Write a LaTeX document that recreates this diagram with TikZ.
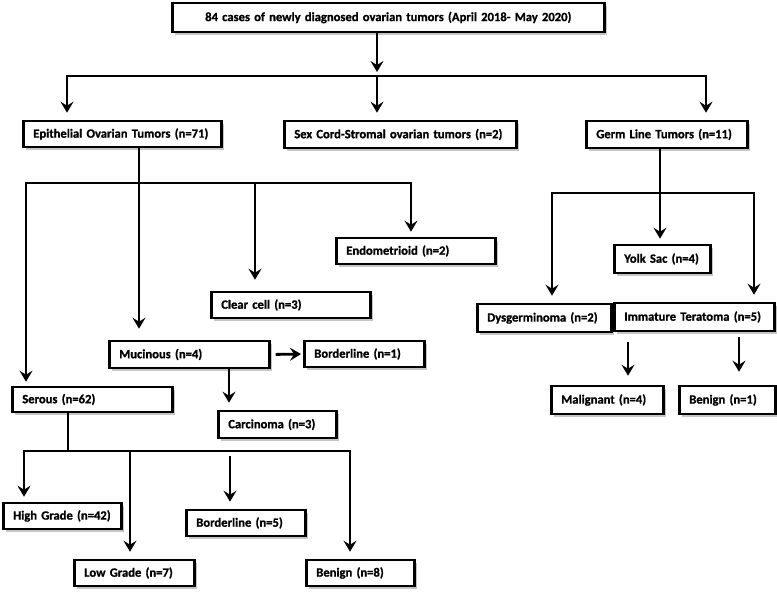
\documentclass[tikz,border=0pt]{standalone}
\usepackage{fontspec}
\setmainfont{Carlito}[BoldFeatures={FakeBold=1}]
\usetikzlibrary{arrows.meta}
\usetikzlibrary{shadows}
\tikzset{>={Stealth[length=11pt,width=13pt,inset=4pt]}}

\begin{document}
\begin{tikzpicture}[x=1pt, y=-1pt,
        tbox/.style={draw, line width=2.6pt, fill=white, anchor=west,
            inner xsep=10pt, inner ysep=2pt, minimum height=26pt,
            text width=#1, align=left,
            font=\bfseries\fontsize{12.6}{14}\selectfont,
            drop shadow={shadow xshift=3pt, shadow yshift=-3pt, fill=black!45, opacity=0.5}},
        link/.style={line width=2.8pt},
        arrow/.style={link, ->, shorten >=7pt}]
        \useasboundingbox (0,0) rectangle (777,596);

        % boxes
        \node [tbox=412, align=center, minimum height=29pt] (top) at (171,17.5) {84 cases of newly diagnosed ovarian tumors (April 2018- May 2020)};
        \node [tbox=178] (epi) at (22,134) {Epithelial Ovarian Tumors (n=71)};
        \node [tbox=212, minimum height=27pt] (sex) at (283,134.5) {Sex Cord-Stromal ovarian tumors (n=2)};
        \node [tbox=141, minimum height=27pt] (germ) at (585,134.5) {Germ Line Tumors (n=11)};
        \node [tbox=139] (endo) at (335,251) {Endometrioid (n=2)};
        \node [tbox=139] (cc) at (210,305) {Clear cell (n=3)};
        \node [tbox=140, minimum height=27pt] (muc) at (108,354.5) {Mucinous (n=4)};
        \node [tbox=100] (bord1) at (303,354) {Borderline (n=1)};
        \node [tbox=140, minimum height=25pt] (ser) at (11,399.5) {Serous (n=62)};
        \node [tbox=98, minimum height=27pt] (carc) at (217,424.5) {Carcinoma (n=3)};
        \node [tbox=98] (hg) at (2,516) {High Grade (n=42)};
        \node [tbox=99] (bord5) at (185,523) {Borderline (n=5)};
        \node [tbox=100] (lg) at (73,573) {Low Grade (n=7)};
        \node [tbox=88] (ben8) at (305,573) {Benign (n=8)};
        \node [tbox=76, minimum height=28pt] (yolk) at (613,259) {Yolk Sac (n=4)};
        \node [tbox=114, minimum height=28pt] (dys) at (476,318) {Dysgerminoma (n=2)};
        \node [tbox=140, minimum height=28pt] (imt) at (613,317) {Immature Teratoma (n=5)};
        \node [tbox=92, minimum height=28pt] (mal) at (550,400) {Malignant (n=4)};
        \node [tbox=76, minimum height=28pt] (ben1) at (678,400) {Benign (n=1)};

        % first split
        \coordinate (j0) at (377,76);
        \coordinate (epiIn) at (67,76);
        \coordinate (germIn) at (706,76);
        \draw [arrow, shorten >=4pt] (top.south -| j0) -- (j0);
        \draw [arrow] (j0) -- (epiIn) -- (epiIn |- epi.north);
        \draw [arrow] (j0) -- (germIn) -- (germIn |- germ.north);
        \draw [arrow] (j0) -- (j0 |- sex.north);

        % epithelial
        \coordinate (j1) at (139,183);
        \coordinate (serIn) at (26,183);
        \coordinate (ccIn) at (255,183);
        \coordinate (endoIn) at (411,183);
        \draw [arrow, shorten >=11pt] (epi.south -| j1) -- (j1 |- muc.north);
        \draw [arrow, shorten >=4pt] (j1) -- (serIn) -- (serIn |- ser.north);
        \draw [arrow, shorten >=5pt] (j1) -- (endoIn) -- (endoIn |- endo.north);
        \draw [arrow, shorten >=11pt] (ccIn) -- (ccIn |- cc.north);
        \draw [arrow, shorten <=5pt, shorten >=2pt] (muc.east) -- (bord1.west);
        \coordinate (mucOut) at (229,368);
        \draw [arrow] (mucOut) -- (mucOut |- carc.north);

        % serous
        \coordinate (j2) at (68,451);
        \coordinate (hgIn) at (24,451);
        \coordinate (lgIn) at (130,451);
        \coordinate (b5In) at (230,451);
        \coordinate (b8In) at (350,451);
        \draw [link] (ser.south -| j2) -- (j2);
        \draw [arrow, shorten >=5pt] (j2) -- (hgIn) -- (hgIn |- hg.north);
        \draw [arrow] (j2) -- (b8In) -- (b8In |- ben8.north);
        \draw [arrow] (lgIn) -- (lgIn |- lg.north);
        \draw [arrow, shorten <=5pt] (b5In) -- (b5In |- bord5.north);

        % germ line
        \coordinate (j3) at (660,193);
        \coordinate (dysIn) at (552,193);
        \coordinate (imtIn) at (754,193);
        \draw [arrow, shorten >=5pt] (germ.south -| j3) -- (j3 |- yolk.north);
        \draw [arrow] (j3) -- (dysIn) -- (dysIn |- dys.north);
        \draw [arrow] (j3) -- (imtIn) -- (imtIn |- imt.north);
        \coordinate (malIn) at (628,342);
        \coordinate (ben1In) at (739,337);
        \draw [arrow, shorten >=9pt] (malIn) -- (malIn |- mal.north);
        \draw [arrow, shorten >=13pt] (ben1In) -- (ben1In |- ben1.north);
    \end{tikzpicture}
\end{document}
